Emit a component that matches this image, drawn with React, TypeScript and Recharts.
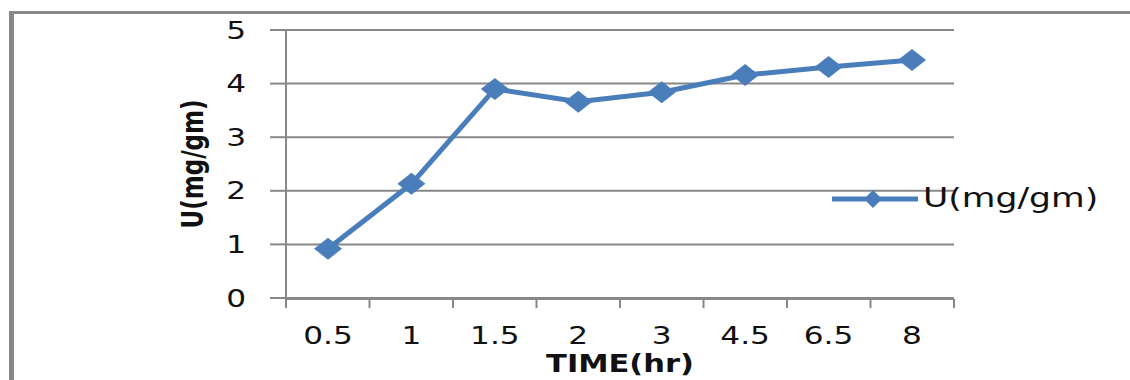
import { CartesianGrid, Label, Legend, Line, LineChart, XAxis, YAxis } from "recharts";

// sampling times (hr) and uptake U (mg/gm)
const TIMES = ["0.5", "1", "1.5", "2", "3", "4.5", "6.5", "8"];
const UPTAKE = [0.92, 2.13, 3.9, 3.66, 3.84, 4.16, 4.31, 4.44];
const Y_TICKS = [0, 1, 2, 3, 4, 5];
const EDGE_TICKS = [0, 1, 2, 3, 4, 5, 6, 7, 8];

const BLUE = "#4A7EBB";
const GREY = "#888888";
const FONT = "'DejaVu Sans', sans-serif";
const STRETCH = 1.3;

// slot = middle of the category cell, used by the boundary-tick axis
const data = TIMES.map((time, i) => ({ time, u: UPTAKE[i], slot: i + 0.5 }));

function Diamond({ cx, cy }: any) {
  if (cx == null || cy == null) return null;
  return (
    <polygon
      points={`${cx},${cy - 11} ${cx + 14},${cy} ${cx},${cy + 11} ${cx - 14},${cy}`}
      fill={BLUE}
    />
  );
}

// category boundaries only carry a tick mark, no text
function NoText() {
  return <g />;
}

function TimeTick({ x, y, payload }: any) {
  return (
    <text
      transform={`translate(${x},${y + 46}) scale(${STRETCH},1)`}
      textAnchor="middle"
      fontFamily={FONT}
      fontSize={24}
      fill="#111"
    >
      {payload.value}
    </text>
  );
}

function ValueTick({ x, y, payload }: any) {
  return (
    <text
      transform={`translate(${x},${y + 8.5}) scale(${STRETCH},1)`}
      textAnchor="end"
      fontFamily={FONT}
      fontSize={24}
      fill="#111"
    >
      {payload.value}
    </text>
  );
}

function XTitle({ viewBox }: any) {
  const cx = viewBox.x + viewBox.width / 2;
  return (
    <text
      transform={`translate(${cx},${viewBox.y + 74}) scale(1.27,1)`}
      textAnchor="middle"
      fontFamily={FONT}
      fontWeight="bold"
      fontSize={24}
      fill="#111"
    >
      TIME(hr)
    </text>
  );
}

function YTitle({ viewBox }: any) {
  const cx = viewBox.x + 42;
  const cy = viewBox.y + viewBox.height / 2;
  return (
    <text
      transform={`translate(${cx},${cy}) rotate(-90) scale(1,${STRETCH})`}
      textAnchor="middle"
      dominantBaseline="central"
      fontFamily={FONT}
      fontWeight="bold"
      fontSize={23}
      fill="#111"
    >
      U(mg/gm)
    </text>
  );
}

function LegendKey() {
  return (
    <svg width={290} height={40}>
      <line x1={2} y1={19} x2={88} y2={19} stroke={BLUE} strokeWidth={5} />
      <polygon points="43,10 52,19 43,28 34,19" fill={BLUE} />
      <text
        transform="translate(93,27) scale(1.33,1)"
        fontFamily={FONT}
        fontSize={26}
        fill="#111"
      >
        U(mg/gm)
      </text>
    </svg>
  );
}

export default function App() {
  return (
    <div
      style={{
        position: "absolute",
        left: 0,
        top: 0,
        width: 1130,
        height: 380,
        background: "#fff",
        overflow: "hidden",
      }}
    >
      {/* frame of the cropped figure */}
      <div
        style={{
          position: "absolute",
          left: 9,
          top: 11,
          width: 1130,
          height: 380,
          borderLeft: `5px solid ${GREY}`,
          borderTop: `3px solid ${GREY}`,
        }}
      />
      <LineChart
        width={1130}
        height={380}
        data={data}
        margin={{ top: 30, right: 176, left: 150, bottom: 80 }}
      >
        <CartesianGrid vertical={false} stroke={GREY} strokeWidth={2} />
        <XAxis
          xAxisId="edges"
          dataKey="slot"
          type="number"
          domain={[0, 8]}
          allowDataOverflow
          ticks={EDGE_TICKS}
          interval={0}
          height={1}
          tick={<NoText />}
          tickSize={9}
          axisLine={{ stroke: GREY, strokeWidth: 2 }}
          tickLine={{ stroke: GREY, strokeWidth: 2 }}
        />
        <XAxis
          dataKey="time"
          height={1}
          padding={{ left: 42, right: 42 }}
          axisLine={false}
          tickLine={false}
          tickSize={0}
          tickMargin={0}
          interval={0}
          tick={<TimeTick />}
        >
          <Label content={<XTitle />} />
        </XAxis>
        <YAxis
          width={136}
          domain={[0, 5]}
          ticks={Y_TICKS}
          interval={0}
          tickSize={16}
          tickMargin={24}
          axisLine={{ stroke: GREY, strokeWidth: 2 }}
          tickLine={{ stroke: GREY, strokeWidth: 2 }}
          tick={<ValueTick />}
        >
          <Label content={<YTitle />} />
        </YAxis>
        <Legend
          layout="horizontal"
          verticalAlign="middle"
          align="center"
          content={<LegendKey />}
          wrapperStyle={{ left: 830, top: 180, width: 290 }}
        />
        <Line
          dataKey="u"
          name="U(mg/gm)"
          stroke={BLUE}
          strokeWidth={5}
          dot={<Diamond />}
          activeDot={false}
          isAnimationActive={false}
        />
      </LineChart>
    </div>
  );
}
